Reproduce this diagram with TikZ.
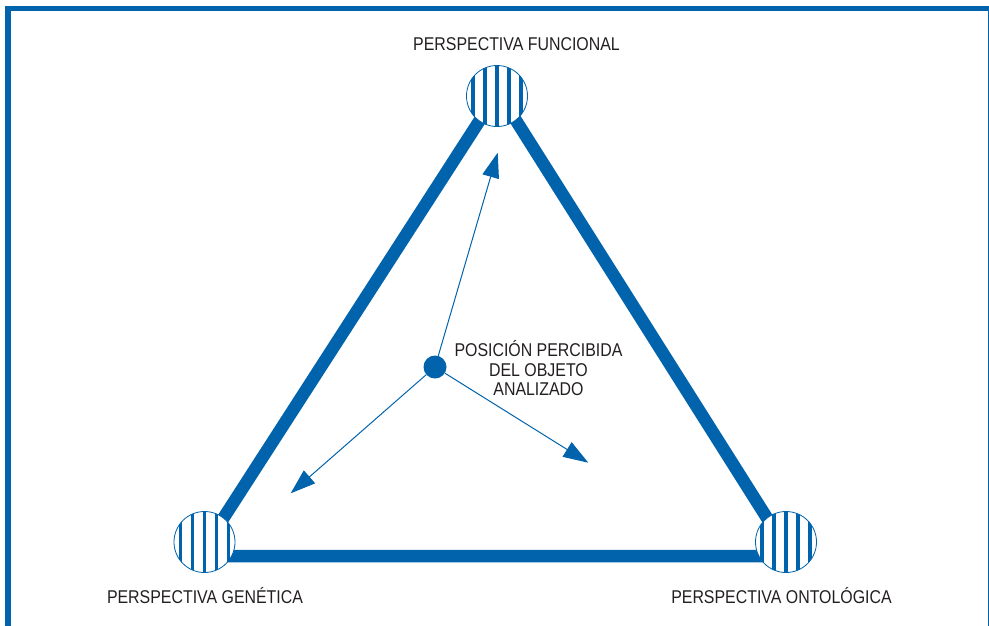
\documentclass[tikz,border=0pt]{standalone}
\usepackage{fontspec}
\setmainfont[FakeStretch=0.86]{Liberation Sans}
\usetikzlibrary{arrows.meta,positioning}
\definecolor{persp}{RGB}{0,99,172}
\definecolor{txt}{RGB}{35,31,32}
\tikzstyle{marco}=[draw=persp, line width=5.5pt]
\tikzstyle{tri}=[draw=persp, line width=12.5pt, line join=round]
\tikzstyle{vert}=[circle, draw=persp, line width=0.8pt, fill=white, minimum size=61pt, inner sep=0pt,
  path picture={\foreach \dx in {-24,-12,0,12,24}
    \draw[persp, line width=3.6pt] ([xshift=\dx pt]path picture bounding box.north) -- ([xshift=\dx pt]path picture bounding box.south);}]
\tikzstyle{objdot}=[circle, fill=persp, minimum size=23pt, inner sep=0pt]
\tikzstyle{plabel}=[text=txt, inner sep=0pt, anchor=base]
\tikzstyle{ptext}=[text=txt, inner sep=0pt, align=center]

\begin{document}
\begin{tikzpicture}[x=1pt,y=-1pt,>={Triangle[length=25pt,width=17pt]},font=\fontsize{18.5}{19.5}\selectfont]
    \useasboundingbox (0,0) rectangle (989,625);
    % marco
    \draw[marco] (5.3,8.5) -- (992,8.5);
    \draw[marco] (8,5.75) -- (8,630);
    \draw[marco] (990.5,5.75) -- (990.5,630);
    % triangulo
    \coordinate (va) at (498,92);
    \coordinate (vb) at (199,556);
    \coordinate (vc) at (791,556);
    \draw[tri] (va) -- (vb) -- (vc) -- cycle;
    \node[vert] (fun) at (497,96) {};
    \node[vert] (gen) at (204.5,542) {};
    \node[vert] (ont) at (786,542) {};
    \node[plabel] (lfun) at (516.5,50) {PERSPECTIVA FUNCIONAL};
    \node[plabel] (lgen) at (205,603) {PERSPECTIVA GENÉTICA};
    \node[plabel] (lont) at (781.5,603) {PERSPECTIVA ONTOLÓGICA};
    % objeto
    \node[objdot] (obj) at (435,367) {};
    \node[ptext] (lobj) at (538.5,368.5) {POSICIÓN PERCIBIDA\\DEL OBJETO\\ANALIZADO};
    \coordinate (tfun) at (497.7,152.7);
    \coordinate (tgen) at (290.7,493.3);
    \coordinate (tont) at (588.3,462.7);
    \path[->, color=persp, line width=1pt]
    (obj) edge (tfun)
    (obj) edge (tgen)
    (obj) edge (tont);
\end{tikzpicture}
\end{document}
